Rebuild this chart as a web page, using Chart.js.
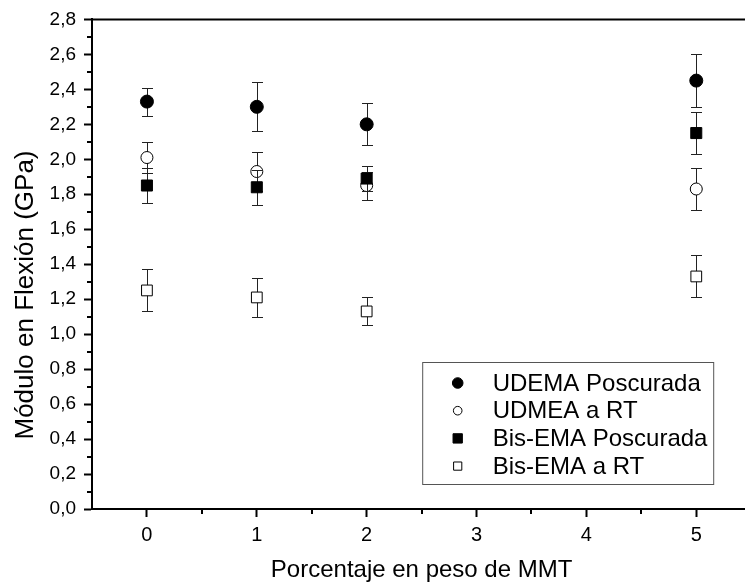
<!DOCTYPE html>
<html>
<head>
<meta charset="utf-8">
<script src="https://cdn.jsdelivr.net/npm/chart.js@4.4.1/dist/chart.umd.min.js"></script>
<style>
	html, body { margin: 0; padding: 0; overflow: hidden; background: #fff; }
	#wrap { width: 760px; height: 588px; }
</style>
</head>
<body>
<div id="wrap"><canvas id="chart" width="760" height="588"></canvas></div>
<script>
// MMT content (wt%)
const mmtPercent = [0, 1, 2, 5];
const xTickValues = [0, 1, 2, 3, 4, 5];

const udemaPost = [2.33, 2.30, 2.20, 2.45];
const udemaPostErr = [0.08, 0.14, 0.12, 0.15];

const udmeaRT = [2.01, 1.93, 1.85, 1.83];
const udmeaRTErr = [0.09, 0.11, 0.08, 0.12];

const bisPost = [1.85, 1.84, 1.89, 2.15];
const bisPostErr = [0.10, 0.10, 0.07, 0.12];

const bisRT = [1.25, 1.21, 1.13, 1.33];
const bisRTErr = [0.12, 0.11, 0.08, 0.12];

const seriesLabels = ['UDEMA Poscurada', 'UDMEA a RT', 'Bis-EMA Poscurada', 'Bis-EMA a RT'];

const xTitle = 'Porcentaje en peso de MMT';
const yTitle = 'Módulo en Flexión (GPa)';

const FONT = '"Liberation Sans", Arial, Helvetica, sans-serif';

function points(values) {
	return mmtPercent.map((x, i) => ({ x: x, y: values[i] }));
}

function commaLabel(v) {
	return v.toFixed(1).replace('.', ',');
}

// error bars, drawn just before each dataset's own markers
const errorBars = {
	id: 'errorBars',
	beforeDatasetDraw(chart, args) {
		const ds = chart.data.datasets[args.index];
		if (!ds.errors) return;
		const { ctx } = chart;
		const xs = chart.scales.x;
		const ys = chart.scales.y;
		ctx.save();
		ctx.strokeStyle = '#222';
		ctx.lineWidth = 1;
		ds.data.forEach((p, i) => {
			const px = Math.round(xs.getPixelForValue(p.x)) + 0.5;
			const top = Math.round(ys.getPixelForValue(p.y + ds.errors[i])) + 0.5;
			const bot = Math.round(ys.getPixelForValue(p.y - ds.errors[i])) + 0.5;
			ctx.beginPath();
			ctx.moveTo(px, top);
			ctx.lineTo(px, bot);
			ctx.moveTo(px - 5.5, top);
			ctx.lineTo(px + 5.5, top);
			ctx.moveTo(px - 5.5, bot);
			ctx.lineTo(px + 5.5, bot);
			ctx.stroke();
		});
		ctx.restore();
	}
};

// minor ticks, top frame, y title and the boxed legend
const decorations = {
	id: 'decorations',
	afterDraw(chart) {
		const { ctx, chartArea } = chart;
		const xs = chart.scales.x;
		const ys = chart.scales.y;
		ctx.save();
		ctx.strokeStyle = '#000';
		ctx.lineWidth = 2;

		ctx.beginPath();
		for (let v = 0.1; v < 2.8; v += 0.2) {
			const py = Math.round(ys.getPixelForValue(v));
			ctx.moveTo(chartArea.left, py);
			ctx.lineTo(chartArea.left - 5, py);
		}
		for (let v = 0.5; v < 5.5; v += 1) {
			const px = Math.round(xs.getPixelForValue(v));
			ctx.moveTo(px, chartArea.bottom);
			ctx.lineTo(px, chartArea.bottom + 5);
		}
		ctx.moveTo(chartArea.left - 1, chartArea.top);
		ctx.lineTo(chartArea.right, chartArea.top);
		ctx.moveTo(chartArea.right, chartArea.top);
		ctx.lineTo(chartArea.right, chartArea.bottom);
		ctx.stroke();

		// y axis title
		ctx.save();
		ctx.translate(26, 295);
		ctx.rotate(-Math.PI / 2);
		ctx.fillStyle = '#000';
		ctx.font = '26px ' + FONT;
		ctx.textAlign = 'center';
		ctx.textBaseline = 'middle';
		ctx.fillText(yTitle, 0, 0);
		ctx.restore();

		// legend box
		const boxR = chartArea.right - 37.5;
		const boxB = chartArea.bottom - 24.5;
		const boxW = 291;
		const boxH = 122;
		ctx.lineWidth = 1;
		ctx.strokeStyle = '#555';
		ctx.strokeRect(boxR - boxW, boxB - boxH, boxW, boxH);

		const rowY = boxB - boxH + 20.5;
		const rowGap = 27.7;
		const markX = boxR - boxW + 35;
		const textX = boxR - boxW + 70;
		ctx.font = '24px ' + FONT;
		ctx.textAlign = 'left';
		ctx.textBaseline = 'middle';
		chart.data.datasets.forEach((ds, i) => {
			const cy = rowY + i * rowGap;
			ctx.fillStyle = ds.backgroundColor;
			ctx.strokeStyle = '#000';
			Chart.helpers.drawPoint(ctx, {
				pointStyle: ds.pointStyle,
				rotation: 0,
				radius: ds.legendRadius,
				borderWidth: 1
			}, markX, cy);
			ctx.fillStyle = '#000';
			ctx.fillText(ds.label, textX, cy + 1);
		});
		ctx.restore();
	}
};

const datasets = [
	{ label: seriesLabels[0], data: points(udemaPost), errors: udemaPostErr, pointStyle: 'circle', pointRadius: 6.5, legendRadius: 5.3, backgroundColor: '#000', order: 4 },
	{ label: seriesLabels[1], data: points(udmeaRT), errors: udmeaRTErr, pointStyle: 'circle', pointRadius: 6, legendRadius: 4.3, backgroundColor: '#fff', order: 3 },
	{ label: seriesLabels[2], data: points(bisPost), errors: bisPostErr, pointStyle: 'rect', pointRadius: 7.8, legendRadius: 6.6, backgroundColor: '#000', order: 2 },
	{ label: seriesLabels[3], data: points(bisRT), errors: bisRTErr, pointStyle: 'rect', pointRadius: 7.6, legendRadius: 5.8, backgroundColor: '#fff', order: 1 },
].map((d) => ({
	...d,
	borderColor: '#000',
	borderWidth: 1,
	pointBorderWidth: 1,
	pointHoverRadius: d.pointRadius,
	showLine: false,
	clip: false,
}));

new Chart(document.getElementById('chart'), {
	type: 'scatter',
	data: { datasets: datasets },
	options: {
		responsive: false,
		animation: false,
		events: [],
		layout: { padding: { left: 0, top: 19, right: 8, bottom: 0 } },
		plugins: {
			legend: { display: false },
			tooltip: { enabled: false },
		},
		scales: {
			x: {
				type: 'linear',
				min: -0.5,
				max: 5.5,
				afterBuildTicks: (scale) => { scale.ticks = xTickValues.map((v) => ({ value: v })); },
				afterFit: (scale) => { scale.height = 79; },
				border: { display: true, color: '#000', width: 2 },
				grid: { display: true, drawOnChartArea: false, drawTicks: true, tickLength: 8, tickWidth: 2, tickColor: '#000' },
				ticks: {
					padding: 6,
					color: '#000',
					font: { family: FONT, size: 20 },
					maxRotation: 0,
					autoSkip: false,
				},
				title: {
					display: true,
					text: xTitle,
					color: '#000',
					font: { family: FONT, size: 24 },
					padding: { top: 0, bottom: 3 },
				},
			},
			y: {
				type: 'linear',
				min: 0,
				max: 2.8,
				afterFit: (scale) => { scale.width = 92; },
				border: { display: true, color: '#000', width: 2 },
				grid: { display: true, drawOnChartArea: false, drawTicks: true, tickLength: 8, tickWidth: 2, tickColor: '#000' },
				ticks: {
					stepSize: 0.2,
					padding: 8,
					color: '#000',
					font: { family: FONT, size: 19 },
					callback: (v) => commaLabel(v),
				},
			},
		},
	},
	plugins: [errorBars, decorations],
});
</script>
</body>
</html>
